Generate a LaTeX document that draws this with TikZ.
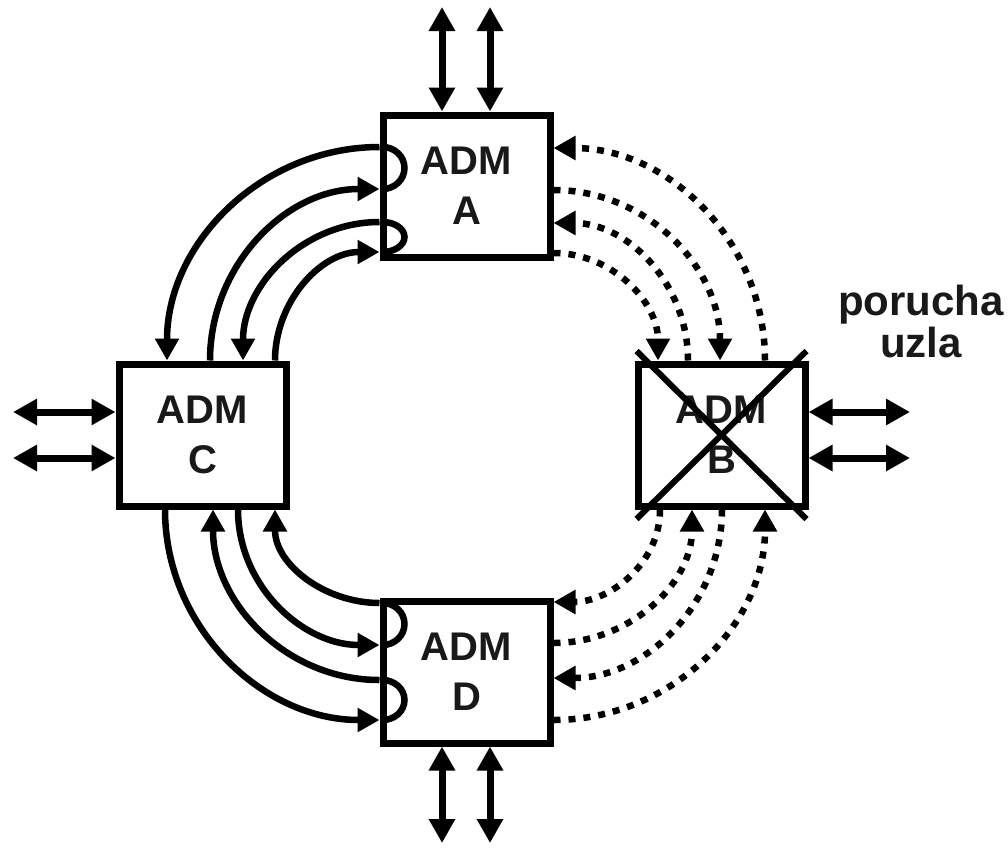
\documentclass[tikz,border=0pt]{standalone}
\usepackage{fontspec}
\setsansfont{Liberation Sans}
\usetikzlibrary{arrows.meta}

\tikzset{
  admbox/.style={draw, line width=7pt, minimum width=167pt, minimum height=142pt,
    inner sep=0pt, align=center, text=black!90,
    font=\sffamily\bfseries\fontsize{40}{50}\selectfont},
  ring/.style={line width=6.5pt, -{Triangle[length=22pt,width=23pt]}},
  backup/.style={line width=6.5pt, dash pattern=on 7pt off 8pt,
    -{Triangle[length=22pt,width=23pt]}},
  loopline/.style={line width=6.5pt},
  biarrow/.style={line width=7pt,
    {Triangle[length=24pt,width=25pt]}-{Triangle[length=24pt,width=25pt]}},
  crossline/.style={line width=6pt}
}

\begin{document}
\begin{tikzpicture}[x=1pt, y=-1pt]
    \useasboundingbox (0,0) rectangle (1008,849);

    % ADM nodes of the ring
    \node[admbox] (A) at (466.5,186) {ADM\\A};
    \node[admbox] (C) at (202.5,435) {ADM\\C};
    \node[admbox] (B) at (721.5,435) {ADM\\B};
    \node[admbox] (D) at (466.5,672) {ADM\\D};

    % failed node B
    \draw[crossline] ([shift={(-85pt,84pt)}]B.center) -- ([shift={(85pt,-84pt)}]B.center);
    \draw[crossline] ([shift={(85pt,84pt)}]B.center) -- ([shift={(-85pt,-84pt)}]B.center);
    \node[font=\sffamily\bfseries\fontsize{42}{42}\selectfont, text=black!90,
        align=center, inner sep=0pt]
        (fault) at (921,321) {porucha\\uzla};

    % tributary ports
    \coordinate (ta1) at (442,7);  \coordinate (ta2) at (490,7);
    \coordinate (td1) at (442,843); \coordinate (td2) at (490,843);
    \coordinate (tc1) at (13,412); \coordinate (tc2) at (13,458);
    \coordinate (tb1) at (910,412); \coordinate (tb2) at (910,458);
    \draw[biarrow] (ta1) -- (A.north -| ta1);
    \draw[biarrow] (ta2) -- (A.north -| ta2);
    \draw[biarrow] (td1) -- (D.south -| td1);
    \draw[biarrow] (td2) -- (D.south -| td2);
    \draw[biarrow] (tc1) -- (C.west |- tc1);
    \draw[biarrow] (tc2) -- (C.west |- tc2);
    \draw[biarrow] (tb1) -- (B.east |- tb1);
    \draw[biarrow] (tb2) -- (B.east |- tb2);

    % ports A <-> C
    \coordinate (a1) at (A.west |- 0,147);
    \coordinate (a2) at (A.west |- 0,189);
    \coordinate (a3) at (A.west |- 0,222);
    \coordinate (a4) at (A.west |- 0,252);
    \coordinate (c1) at (C.north -| 167,0);
    \coordinate (c2) at (C.north -| 210,0);
    \coordinate (c3) at (C.north -| 243,0);
    \coordinate (c4) at (C.north -| 275,0);
    \draw[loopline] ([xshift=3pt]a1) arc[start angle=90, end angle=-90, x radius=22pt, y radius=21pt];
    \draw[loopline] ([xshift=3pt]a3) arc[start angle=90, end angle=-90, x radius=22pt, y radius=15pt];
    \draw[ring] (a1) to[out=180, in=90] (c1);
    \draw[ring] (c2) to[out=90, in=180] (a2);
    \draw[ring] (a3) to[out=180, in=90] (c3);
    \draw[ring] (c4) to[out=90, in=180] (a4);

    % ports C <-> D
    \coordinate (cb1) at (C.south -| 165,0);
    \coordinate (cb2) at (C.south -| 213,0);
    \coordinate (cb3) at (C.south -| 238,0);
    \coordinate (cb4) at (C.south -| 275,0);
    \coordinate (d1) at (D.west |- 0,603);
    \coordinate (d2) at (D.west |- 0,645);
    \coordinate (d3) at (D.west |- 0,680);
    \coordinate (d4) at (D.west |- 0,720);
    \draw[loopline] ([xshift=3pt]d1) arc[start angle=90, end angle=-90, x radius=22pt, y radius=21pt];
    \draw[loopline] ([xshift=3pt]d3) arc[start angle=90, end angle=-90, x radius=22pt, y radius=20pt];
    \draw[ring] (d1) to[out=180, in=-90] (cb4);
    \draw[ring] (cb3) to[out=-90, in=180] (d2);
    \draw[ring] (d3) to[out=180, in=-90] (cb2);
    \draw[ring] (cb1) to[out=-90, in=180] (d4);

    % protection paths A <-> B
    \coordinate (ar1) at (A.east |- 0,148);
    \coordinate (ar2) at (A.east |- 0,190);
    \coordinate (ar3) at (A.east |- 0,223);
    \coordinate (ar4) at (A.east |- 0,253);
    \coordinate (bt1) at (B.north -| 658,0);
    \coordinate (bt2) at (B.north -| 688,0);
    \coordinate (bt3) at (B.north -| 720,0);
    \coordinate (bt4) at (B.north -| 765,0);
    \draw[backup] (bt4) to[out=90, in=0] (ar1);
    \draw[backup] (ar2) to[out=0, in=90] (bt3);
    \draw[backup] (bt2) to[out=90, in=0] (ar3);
    \draw[backup] (ar4) to[out=0, in=90] (bt1);

    % protection paths B <-> D
    \coordinate (bb1) at (B.south -| 660,0);
    \coordinate (bb2) at (B.south -| 692,0);
    \coordinate (bb3) at (B.south -| 722,0);
    \coordinate (bb4) at (B.south -| 765,0);
    \coordinate (dr1) at (D.east |- 0,602);
    \coordinate (dr2) at (D.east |- 0,643);
    \coordinate (dr3) at (D.east |- 0,678);
    \coordinate (dr4) at (D.east |- 0,720);
    \draw[backup] (bb1) to[out=-90, in=0] (dr1);
    \draw[backup] (dr2) to[out=0, in=-90] (bb2);
    \draw[backup] (bb3) to[out=-90, in=0] (dr3);
    \draw[backup] (dr4) to[out=0, in=-90] (bb4);
\end{tikzpicture}
\end{document}
